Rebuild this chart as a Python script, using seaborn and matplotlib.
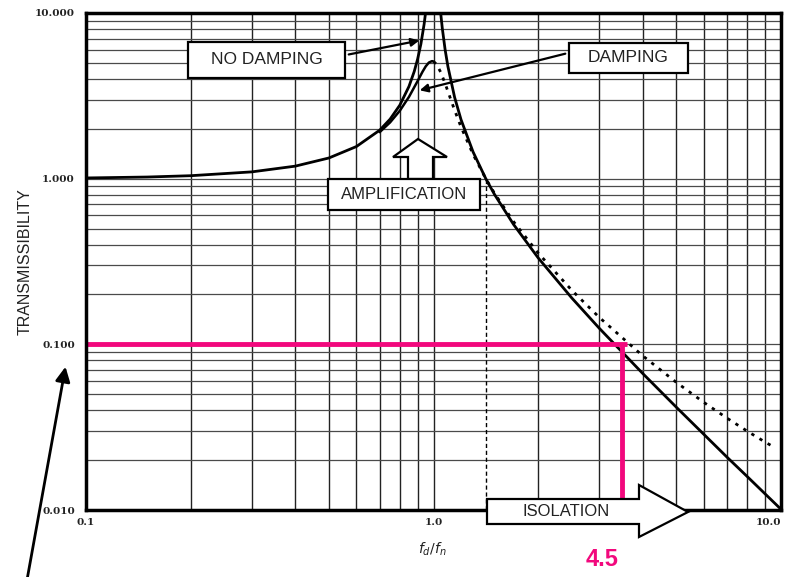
import numpy as np
import pandas as pd
import matplotlib
matplotlib.use("Agg")
import matplotlib.pyplot as plt
import seaborn as sns
from matplotlib.patches import Rectangle, Polygon
from matplotlib.ticker import LogLocator, FixedLocator, FixedFormatter, NullFormatter

# ---------------- data ----------------
ratio_undamped_low = [0.1, 0.15, 0.2, 0.3, 0.4, 0.5, 0.6, 0.7, 0.75, 0.8, 0.85, 0.88, 0.9, 0.92, 0.94, 0.95, 0.96]
trans_undamped_low = [1.010, 1.023, 1.042, 1.099, 1.190, 1.333, 1.563, 1.961, 2.286, 2.778, 3.604, 4.433,
                      5.263, 6.510, 8.591, 10.26, 12.76]
ratio_undamped_high = [1.04, 1.05, 1.06, 1.08, 1.1, 1.15, 1.2, 1.3, 1.414, 1.5, 1.7, 2.0, 2.5, 3.0, 4.0,
                       5.0, 6.0, 7.0, 8.0, 10.0]
trans_undamped_high = [12.25, 9.756, 8.091, 6.010, 4.762, 3.101, 2.273, 1.449, 1.000, 0.800, 0.529, 0.333,
                       0.1905, 0.125, 0.0667, 0.0417, 0.0286, 0.0208, 0.0159, 0.0101]
ratio_damped_rise = [0.7, 0.75, 0.8, 0.85, 0.9, 0.93, 0.95, 0.97, 0.99, 1.0]
trans_damped_rise = [1.909, 2.186, 2.571, 3.117, 3.882, 4.424, 4.766, 5.023, 5.123, 5.099]
ratio_damped_fall = [1.0, 1.02, 1.05, 1.08, 1.1, 1.15, 1.2, 1.3, 1.414, 1.5, 1.7, 2.0, 2.5, 3.0, 4.0, 5.0,
                     6.0, 7.0, 8.0, 9.0, 9.5]
trans_damped_fall = [5.099, 4.908, 4.373, 3.752, 3.367, 2.591, 2.052, 1.401, 1.000, 0.812, 0.550, 0.356,
                     0.212, 0.1454, 0.0853, 0.0589, 0.0446, 0.0358, 0.0299, 0.0257, 0.0241]

crossover_ratio = 1.414
target_trans = 0.1
target_ratio = 3.48
target_h_end = 3.6
target_v_bottom = 0.0113
target_label = "4.5"

x_ticks = [0.1, 1.0, 10.0]
x_tick_labels = ["0.1", "1.0", "10.0"]
y_ticks = [0.01, 0.1, 1.0, 10.0]
y_tick_labels = ["0.010", "0.100", "1.000", "10.000"]

# ---------------- style ----------------
sns.set_style("white")
plt.rcParams['font.family'] = ['Liberation Sans', 'DejaVu Sans']

W, H = 786, 577
fig = plt.figure(figsize=(W / 100, H / 100), dpi=100)
AX_L, AX_R, AX_T, AX_B = 86, 781, 13, 510
ax = fig.add_axes([AX_L / W, 1 - AX_B / H, (AX_R - AX_L) / W, (AX_B - AX_T) / H])


def pa(x, y):
    """pixel -> axes fraction"""
    return ((x - AX_L) / (AX_R - AX_L), (AX_B - y) / (AX_B - AX_T))


def pf(x, y):
    """pixel -> figure fraction"""
    return (x / W, 1 - y / H)


ax.set_xscale('log')
ax.set_yscale('log')
ax.set_xlim(0.1, 10)
ax.set_ylim(0.01, 10)

# grid
ax.xaxis.set_minor_locator(LogLocator(base=10, subs=np.arange(2, 10)))
ax.yaxis.set_minor_locator(LogLocator(base=10, subs=np.arange(2, 10)))
ax.grid(True, which='both', axis='x', color='#222222', lw=1.0, zorder=0)
ax.grid(True, which='both', axis='y', color='#4a4a4a', lw=0.9, zorder=0)
ax.set_axisbelow(True)

# curves
df_ul = pd.DataFrame({'r': ratio_undamped_low, 't': trans_undamped_low})
df_uh = pd.DataFrame({'r': ratio_undamped_high, 't': trans_undamped_high})
df_dr = pd.DataFrame({'r': ratio_damped_rise, 't': trans_damped_rise})
df_df = pd.DataFrame({'r': ratio_damped_fall, 't': trans_damped_fall})

sns.lineplot(data=df_ul, x='r', y='t', ax=ax, color='black', lw=2.0, sort=False, estimator=None)
sns.lineplot(data=df_uh, x='r', y='t', ax=ax, color='black', lw=2.0, sort=False, estimator=None)
sns.lineplot(data=df_dr, x='r', y='t', ax=ax, color='black', lw=1.8, sort=False, estimator=None)
sns.lineplot(data=df_df, x='r', y='t', ax=ax, color='black', lw=2.0, sort=False, estimator=None,
             linestyle=(0, (1.2, 2.2)))

# crossover dashed vertical
ax.plot([crossover_ratio, crossover_ratio], [0.01, 1.0], color='black', lw=1.0, ls=(0, (3, 2)), zorder=2)

# pink target lines
pink = '#f2087d'
ax.plot([0.1, target_h_end], [target_trans, target_trans], color=pink, lw=3.5, zorder=5,
        solid_capstyle='butt', clip_on=False)
ax.plot([target_ratio, target_ratio], [target_trans, target_v_bottom], color=pink, lw=3.5, zorder=5,
        solid_capstyle='butt')

# ticks
ax.xaxis.set_major_locator(FixedLocator(x_ticks))
ax.xaxis.set_major_formatter(FixedFormatter(x_tick_labels))
ax.xaxis.set_minor_formatter(NullFormatter())
ax.yaxis.set_major_locator(FixedLocator(y_ticks))
ax.yaxis.set_major_formatter(FixedFormatter(y_tick_labels))
ax.yaxis.set_minor_formatter(NullFormatter())
ax.tick_params(which='both', length=0)
ax.tick_params(axis='x', pad=6)
ax.tick_params(axis='y', pad=8)
for lab in ax.get_xticklabels() + ax.get_yticklabels():
    lab.set_family(['DejaVu Serif'])
    lab.set_fontsize(7.5)
    lab.set_fontweight('bold')
    lab.set_color('#222222')
xl = ax.get_xticklabels()
xl[-1].set_horizontalalignment('right')
ax.xaxis.get_major_ticks()[-1].label1.set_horizontalalignment('right')

for s in ax.spines.values():
    s.set_color('black')
    s.set_linewidth(2.5)
    s.set_zorder(6)

ax.set_xlabel('')
ax.set_ylabel('')

# ---------------- annotations ----------------
box_kw = dict(transform=ax.transAxes, facecolor='white', edgecolor='black', lw=1.6, zorder=8, clip_on=False)


def box(x0, y0, x1, y1, text, fs):
    (ax0, ay1) = pa(x0, y1)
    (ax1, ay0) = pa(x1, y0)
    ax.add_patch(Rectangle((ax0, ay1), ax1 - ax0, ay0 - ay1, **box_kw))
    cx, cy = pa((x0 + x1) / 2, (y0 + y1) / 2)
    ax.text(cx, cy, text, transform=ax.transAxes, ha='center', va='center', fontsize=fs,
            color='#222222', zorder=9)


box(188, 42, 345, 78, 'NO DAMPING', 12.5)
box(569, 43, 688, 73, 'DAMPING', 12.5)

# arrows from labels to curves
ax.annotate('', xy=pa(422, 40), xytext=pa(346, 55), xycoords='axes fraction', textcoords='axes fraction',
            arrowprops=dict(arrowstyle='-|>', color='black', lw=1.6, mutation_scale=12), zorder=9)
ax.annotate('', xy=pa(417, 91), xytext=pa(568, 53), xycoords='axes fraction', textcoords='axes fraction',
            arrowprops=dict(arrowstyle='-|>', color='black', lw=1.6, mutation_scale=12), zorder=9)

# amplification arrow + box
amp_pts = [pa(418, 139), pa(447, 157), pa(433, 157), pa(433, 179), pa(408, 179), pa(408, 157), pa(393, 157)]
ax.add_patch(Polygon(amp_pts, closed=True, transform=ax.transAxes, facecolor='white', edgecolor='black',
                     lw=1.6, zorder=8))
box(328, 179, 480, 210, 'AMPLIFICATION', 12)

# isolation arrow
iso_pts = [pa(487, 499), pa(639, 499), pa(639, 485), pa(688, 512), pa(639, 537), pa(639, 524), pa(487, 524)]
ax.add_patch(Polygon(iso_pts, closed=True, transform=ax.transAxes, facecolor='white', edgecolor='black',
                     lw=1.6, zorder=8, clip_on=False))
cx, cy = pa(566, 512)
ax.text(cx, cy, 'ISOLATION', transform=ax.transAxes, ha='center', va='center', fontsize=12,
        color='#222222', zorder=9)

# axis labels
fig.text(*pf(25, 262), 'TRANSMISSIBILITY', rotation=90, ha='center', va='center', fontsize=11.5,
         color='#222222')
fig.text(*pf(432, 549), r'$f_d/f_n$', ha='center', va='center', fontsize=10, color='#222222')

# pink value label
fig.text(*pf(602, 560), target_label, ha='center', va='center', fontsize=17, fontweight='bold', color=pink)

# big pointer arrow lower-left
fig.add_artist(matplotlib.patches.FancyArrowPatch(pf(27, 580), pf(66, 364), transform=fig.transFigure,
                                                  arrowstyle='-|>', mutation_scale=22, color='black', lw=2.0))

fig.savefig('out.png', dpi=100)
